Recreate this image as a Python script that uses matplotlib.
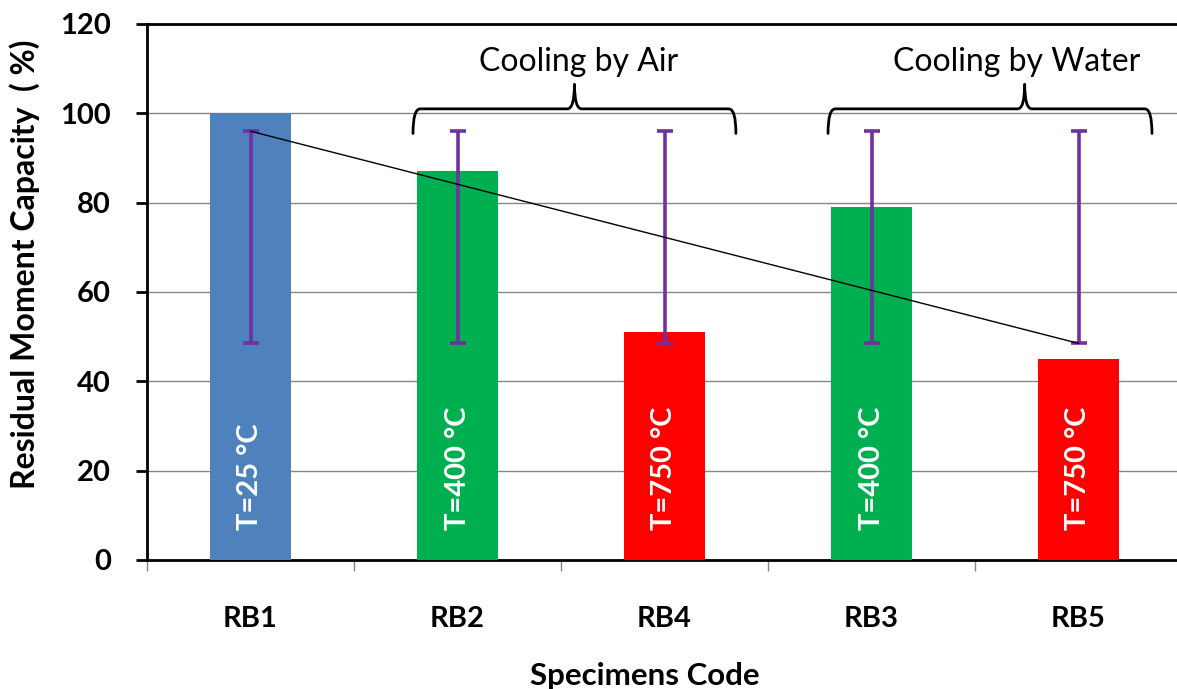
import matplotlib
matplotlib.use("Agg")
import matplotlib.pyplot as plt
from matplotlib.path import Path
from matplotlib.patches import PathPatch

plt.rcParams['font.family'] = ['Lato', 'DejaVu Sans']

# ---------------- datos ----------------
specimens = ['RB1', 'RB2', 'RB4', 'RB3', 'RB5']
capacity = [100, 87, 51, 79, 45]          # Residual moment capacity (%)
temp_labels = ['T=25 °C', 'T=400 °C', 'T=750 °C', 'T=400 °C', 'T=750 °C']
bar_colors = ['#4F81BD', '#00B050', '#FF0000', '#00B050', '#FF0000']
err_low = [48.5, 48.5, 48.5, 48.5, 48.5]
err_high = [96, 96, 96, 96, 96]
trend_x = [0, 4]
trend_y = [96, 48.5]

# llaves de agrupacion: (inicio, fin, punta, texto, x texto)
groups = [(0.785, 2.345, 1.565, 'Cooling by Air', 1.587),
          (2.79, 4.355, 3.74, 'Cooling by Water', 3.70)]


def brace(ax, x0, x1, xm, y, y_end, y_tip, rx=0.035, ry=1.2):
    verts = [(x0, y_end), (x0, y), (x0 + rx, y),
             (xm - rx, y), (xm, y), (xm, y_tip),
             (xm, y), (xm + rx, y),
             (x1 - rx, y), (x1, y), (x1, y_end)]
    codes = [Path.MOVETO, Path.CURVE3, Path.CURVE3,
             Path.LINETO, Path.CURVE3, Path.CURVE3,
             Path.CURVE3, Path.CURVE3,
             Path.LINETO, Path.CURVE3, Path.CURVE3]
    ax.add_patch(PathPatch(Path(verts, codes), fill=False, lw=2, ec='black',
                           capstyle='round', joinstyle='round', zorder=5))


fig = plt.figure(figsize=(11.77, 6.89), dpi=100)
ax = fig.add_axes([147 / 1177, 129 / 689, 1035 / 1177, 536 / 689])

x = list(range(len(specimens)))
ax.bar(x, capacity, width=0.395, color=bar_colors, zorder=3)

center = [(lo + hi) / 2 for lo, hi in zip(err_low, err_high)]
half = [(hi - lo) / 2 for lo, hi in zip(err_low, err_high)]
ax.errorbar(x, center, yerr=half, fmt='none', ecolor='#7030A0',
            elinewidth=2.6, capsize=5.5, capthick=2.6, zorder=4)

ax.plot(trend_x, trend_y, color='black', lw=1, zorder=5)

for xi, lab in zip(x, temp_labels):
    ax.text(xi, 6.7, lab, rotation=90, ha='center', va='bottom',
            color='white', fontsize=21, fontweight='bold', zorder=6)

for x0, x1, xm, txt, xt in groups:
    brace(ax, x0, x1, xm, 101, 95.5, 106.5)
    ax.text(xt, 109.4, txt, ha='center', va='baseline', fontsize=23)

ax.set_xlim(-0.5, 4.5)
ax.set_ylim(0, 120)
ax.set_yticks(range(0, 121, 20))
ax.set_xticks(x)
ax.set_xticklabels(specimens, fontsize=21, fontweight='bold')
ax.set_xticks([i + 0.5 for i in range(-1, 5)], minor=True)
ax.tick_params(axis='x', which='major', length=0, pad=33)
ax.tick_params(axis='x', which='minor', length=8, width=1, color='#868686')
ax.tick_params(axis='y', length=8, width=2, pad=18, labelsize=21)
for t in ax.get_yticklabels():
    t.set_fontweight('bold')

ax.yaxis.grid(True, color='#868686', lw=1)
ax.set_axisbelow(True)
for s in ['left', 'top', 'bottom']:
    ax.spines[s].set_linewidth(2)
    ax.spines[s].set_color('black')
ax.spines['right'].set_visible(False)

ax.set_xlabel('Specimens Code', fontsize=22.5, fontweight='bold')
ax.xaxis.set_label_coords(0.481, -0.19)
ax.set_ylabel('Residual Moment Capacity  ( %)', fontsize=23, fontweight='bold')
ax.yaxis.set_label_coords(-0.103, 0.552)

fig.savefig('out.png', dpi=100)
